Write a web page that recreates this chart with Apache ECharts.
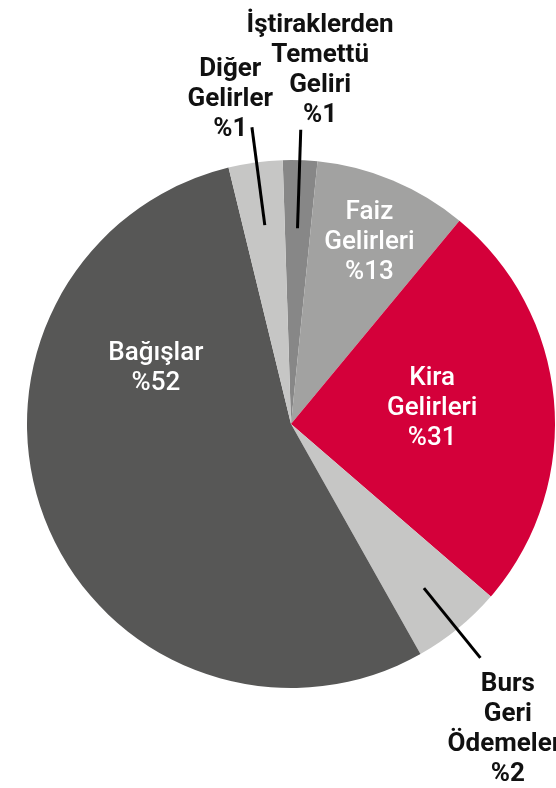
<!DOCTYPE html>
<html>
<head>
<meta charset="utf-8">
<script src="https://cdn.jsdelivr.net/npm/echarts@6/dist/echarts.min.js"></script>
<style>
  html, body { margin: 0; padding: 0; background: #fff; }
  #chart { width: 556px; height: 788px; }
</style>
</head>
<body>
<div id="chart"></div>
<script>
// slices clockwise from the top
const categories = ['İştiraklerden Temettü Geliri', 'Faiz Gelirleri', 'Kira Gelirleri', 'Burs Geri Ödemeleri', 'Bağışlar', 'Diğer Gelirler'];
const nameLines = [['İştiraklerden', 'Temettü', 'Geliri'], ['Faiz', 'Gelirleri'], ['Kira', 'Gelirleri'], ['Burs', 'Geri', 'Ödemeleri'], ['Bağışlar'], ['Diğer', 'Gelirler']];
const shares = [2.1, 9.4, 25.3, 5.5, 54.3, 3.3];
// percentages printed on the chart
const printed = ['%1', '%13', '%31', '%2', '%52', '%1'];
const colors = ['#878787', '#a2a2a1', '#d4003a', '#c6c6c5', '#575756', '#c6c6c5'];
const outside = [true, false, false, true, false, true];

// label placement, polar: [angle from top clockwise, radius fraction]
const CX = 291, CY = 424, R = 264;
const labelAt = [[4.7, 1.345], [23.4, 0.748], [83.6, 0.538], [144.6, 1.418], [292.2, 0.553], [349.4, 1.25]];
// leader lines: [angle, inner radius fraction, outer radius fraction]
const leaders = [[1.9, 0.742, 1.115], [141, 0.80, 1.14], [352.5, 0.76, 1.134]];

function polar(a, f) {
    const rad = a * Math.PI / 180;
    return [CX + f * R * Math.sin(rad), CY - f * R * Math.cos(rad)];
}

const chart = echarts.init(document.getElementById('chart'));

const sliceData = categories.map((name, i) => ({
    name: name,
    value: shares[i],
    itemStyle: { color: colors[i] },
    label: {
        color: outside[i] ? '#111' : '#fff',
        fontWeight: outside[i] ? 'bold' : 500
    }
}));

const leaderSeries = leaders.map(l => ({
    type: 'line',
    coordinateSystem: 'polar',
    data: [[l[1], l[0]], [l[2], l[0]]],
    symbol: 'none',
    silent: true,
    lineStyle: { color: '#000', width: 3 }
}));

chart.setOption({
    animation: false,
    polar: { center: [CX, CY], radius: R * 1.2 },
    angleAxis: { type: 'value', min: 0, max: 360, startAngle: 90, clockwise: true, show: false },
    radiusAxis: { type: 'value', min: 0, max: 1.2, show: false },
    series: [{
        type: 'pie',
        center: [CX, CY],
        radius: R,
        startAngle: 91.8,
        clockwise: true,
        avoidLabelOverlap: false,
        silent: true,
        data: sliceData,
        label: {
            show: true,
            position: 'inside',
            fontFamily: 'Roboto, sans-serif',
            fontSize: 26,
            lineHeight: 30,
            align: 'center',
            formatter: p => nameLines[p.dataIndex].concat(printed[p.dataIndex]).join('\n')
        },
        labelLine: { show: false },
        labelLayout: p => {
            const xy = polar(labelAt[p.dataIndex][0], labelAt[p.dataIndex][1]);
            return { x: xy[0], y: xy[1], align: 'center', verticalAlign: 'middle' };
        }
    }].concat(leaderSeries)
});
</script>
</body>
</html>
